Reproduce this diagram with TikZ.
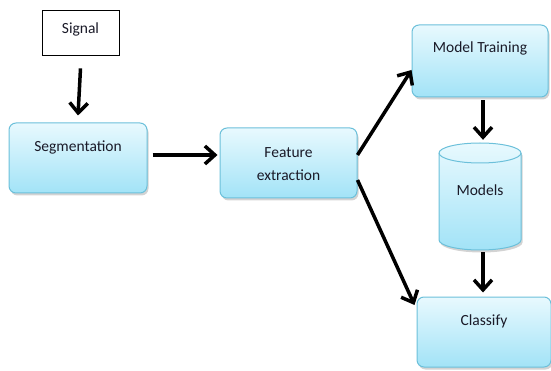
\documentclass[tikz,border=0pt]{standalone}
\usepackage{fontspec}
\setmainfont{Carlito}
\usetikzlibrary{arrows.meta,shadows}
\definecolor{boxtop}{HTML}{E8F9FE}
\definecolor{boxbot}{HTML}{A2E3F7}
\definecolor{boxline}{HTML}{6CC0DA}
\definecolor{txt}{HTML}{1A1A28}
\tikzset{
  x=1pt,y=-1pt,
  bluebox/.style={draw=boxline, line width=1pt, rounded corners=7pt, top color=boxtop, bottom color=boxbot,
    drop shadow={shadow xshift=1.5pt, shadow yshift=-2.5pt, opacity=0.35}, inner sep=0pt},
  plainbox/.style={draw=black, line width=0.8pt, fill=white, inner sep=0pt},
  lbl/.style={font=\fontsize{15.5}{18}\selectfont, text=txt, inner sep=0pt, align=center},
  flow/.style={line width=3.5pt, -{Straight Barb[length=10pt,width=18pt,line width=3.5pt]}},
}
\begin{document}
\begin{tikzpicture}
\useasboundingbox (0,0) rectangle (551,371);
% Signal
\node[plainbox, minimum width=77pt, minimum height=45pt] (sig) at (80.5,32.5) {};
\node[lbl] (sigt) at (80.5,29) {Signal};
% Segmentation
\node[bluebox, minimum width=138pt, minimum height=70pt] (seg) at (78,158) {};
\node[lbl] (segt) at (78,147) {Segmentation};
% Feature extraction
\node[bluebox, minimum width=137pt, minimum height=70pt] (fe) at (288.5,163) {};
\node[lbl] (fet) at (288.5,164) {Feature\\[5pt]extraction};
% Model Training
\node[bluebox, minimum width=136pt, minimum height=72pt] (mt) at (480,61) {};
\node[lbl] (mtt) at (480,48) {Model Training};
% Models cylinder
\node[minimum width=82pt, minimum height=107pt, inner sep=0pt] (mod) at (480,196.5) {};
\path[draw=boxline, line width=1pt, top color=boxtop, bottom color=boxbot,
      drop shadow={shadow xshift=1.5pt, shadow yshift=-2.5pt, opacity=0.35}]
  (439,153) -- (439,240) arc[start angle=180, end angle=0, x radius=41, y radius=10]
  -- (521,153) arc[start angle=0, end angle=-180, x radius=41, y radius=10] -- cycle;
\draw[boxline, line width=1pt] (439,153) arc[start angle=180, end angle=0, x radius=41, y radius=10];
\node[lbl] (modt) at (480,190) {Models};
% Classify
\node[bluebox, minimum width=134pt, minimum height=70pt] (cls) at (484,332) {};
\node[lbl] (clst) at (484,321) {Classify};
% connectors
\draw[flow] ([yshift=-13pt]sig.south) -- ([yshift=7pt]seg.north);
\draw[flow] ([xshift=5pt,yshift=3pt]seg.east) -- ([xshift=-2pt,yshift=8pt]fe.west);
\draw[flow] ([yshift=8pt]fe.east) -- ([yshift=-9pt]mt.west);
\draw[flow] ([yshift=-17pt]fe.east) -- ([xshift=-2pt,yshift=27pt]cls.west);
\draw[flow] ([xshift=3pt,yshift=-3pt]mt.south) -- ([xshift=3pt,yshift=3pt]mod.north);
\draw[flow] ([xshift=3pt,yshift=-2pt]mod.south) -- ([xshift=-1pt,yshift=4pt]cls.north);
\end{tikzpicture}
\end{document}
